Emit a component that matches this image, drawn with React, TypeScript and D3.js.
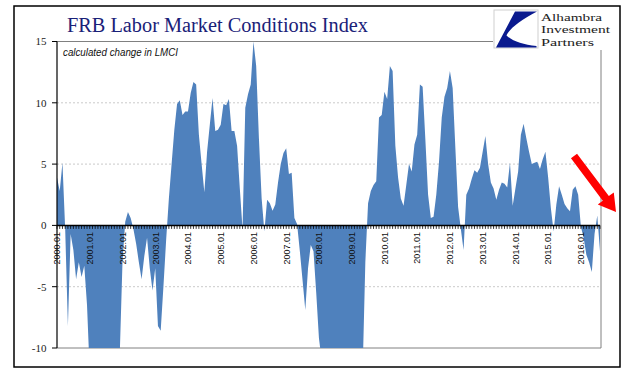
import React from 'react';
import * as d3 from 'd3';

// monthly calculated change in LMCI, Jan 2000 .. Aug 2016 (values below -10 are clipped by the axis)
const lmciChange = [
  3.9, 2.8, 5.1, -0.3, -8.2, -0.7, -2.0, -4.4, -3.0, -4.2, -3.3, -6.5,
  -12, -15, -18, -20, -22, -24, -22, -20, -18, -16, -13, -10.5,
  -3.0, 0.3, 1.1, 0.6, -0.3, -1.5, -3.0, -4.4, -2.5, -1.0, -3.5, -5.3,
  -3.5, -8.2, -8.6, -5.0, -1.2, 2.2, 5.0, 7.8, 9.9, 10.2, 9.0, 9.3,
  9.3, 10.8, 11.7, 11.5, 7.4, 5.0, 2.7, 6.0, 8.2, 10.4, 7.7, 7.8,
  8.2, 9.9, 9.8, 10.3, 7.7, 7.7, 6.5, 3.0, -0.3, 9.6, 10.7, 11.5,
  15.0, 13.0, 7.1, 2.2, -0.5, 2.1, 1.8, 1.2, 1.7, 3.5, 5.0, 5.9,
  6.3, 4.2, 4.3, 0.6, 0.1, -2.1, -4.5, -6.9, -3.5, -1.6, -2.1, -5.5,
  -9.2, -11, -14, -17, -20, -23, -26, -28, -30, -28, -26, -24,
  -21, -18, -15, -13, -12, -3.0, 1.8, 2.8, 3.3, 3.6, 8.8, 9.0,
  10.9, 10.3, 13.0, 12.6, 6.5, 3.9, 2.2, 1.6, 3.3, 5.0, 4.4, 6.6,
  7.4, 11.5, 11.3, 7.0, 2.5, 0.6, 0.7, 2.5, 5.2, 8.8, 10.5, 11.2,
  12.6, 11.2, 6.3, 1.5, -0.3, -2.0, 2.5, 3.0, 3.8, 4.5, 4.3, 4.7,
  6.0, 7.3, 5.0, 3.5, 3.0, 2.1, 2.9, 3.5, 3.4, 3.1, 5.1, 1.6,
  3.0, 4.4, 7.4, 8.3, 7.1, 6.0, 5.0, 5.1, 5.2, 4.6, 5.4, 6.0,
  3.9, 1.4, -0.5, 1.7, 3.2, 2.5, 1.75, 1.4, 1.15, 2.9, 3.2, 2.5,
  -0.1, -1.0, -2.4, -3.0, -3.8, -0.7, 0.8, -2.1,
];

const yTicks = [15, 10, 5, 0, -5, -10];
const dashedGrid = [10, 5, -5];
const xTickLabels = [
  '2000.01', '2001.01', '2002.01', '2003.01', '2004.01', '2005.01', '2006.01', '2007.01', '2008.01',
  '2009.01', '2010.01', '2011.01', '2012.01', '2013.01', '2014.01', '2015.01', '2016.01',
];
const logoLines = ['Alhambra', 'Investment', 'Partners'];
const logoWidths = [61, 69, 53];

const W = 640;
const H = 374;
const plot = { left: 57, right: 600, top: 41.5, bottom: 348 };

export default function App() {
  const x = d3.scaleLinear().domain([0, lmciChange.length - 1]).range([plot.left, plot.right]);
  const y = d3.scaleLinear().domain([-10, 15]).range([plot.bottom, plot.top]);
  const y0 = y(0);

  const area = d3.area<number>()
    .x((_, i) => x(i))
    .y0(y0)
    .y1(d => y(d));

  // red annotation arrow
  const S = [574, 156];
  const T = [616, 212];
  const len = Math.hypot(T[0] - S[0], T[1] - S[1]);
  const d = [(T[0] - S[0]) / len, (T[1] - S[1]) / len];
  const n = [-d[1], d[0]];
  const B = [T[0] - 17 * d[0], T[1] - 17 * d[1]];
  const pt = (p: number[], k: number) => `${p[0] + k * n[0]},${p[1] + k * n[1]}`;
  const arrowPts = [pt(S, 3.8), pt(B, 3.8), pt(B, 10), `${T[0]},${T[1]}`, pt(B, -10), pt(B, -3.8), pt(S, -3.8)].join(' ');

  return (
    <svg width={W} height={H} style={{ position: 'absolute', left: 0, top: 0, background: '#fff' }}>
      <defs>
        <clipPath id="plot-clip">
          <rect x={plot.left} y={plot.top} width={plot.right - plot.left + 1} height={plot.bottom - plot.top} />
        </clipPath>
      </defs>

      <rect x={14} y={6} width={606} height={361} fill="#fff" stroke="#000" strokeWidth={1.5} />

      {/* title */}
      <text x={217.5} y={31.5} textAnchor="middle" fontFamily="'Liberation Serif', serif" fontSize={20} fill="#1a2178" textLength={301} lengthAdjust="spacingAndGlyphs">
        FRB Labor Market Conditions Index
      </text>

      {/* plot frame */}
      <line x1={plot.left} x2={493} y1={plot.top} y2={plot.top} stroke="#808080" strokeWidth={1} />
      <line x1={plot.left} x2={601} y1={plot.bottom} y2={plot.bottom} stroke="#808080" strokeWidth={1} />
      <line x1={601} x2={601} y1={50} y2={plot.bottom} stroke="#808080" strokeWidth={1} />

      {dashedGrid.map(v => (
        <line key={v} x1={plot.left} x2={601} y1={y(v)} y2={y(v)} stroke="#bdbdbd" strokeWidth={0.8} strokeDasharray="2,2" />
      ))}

      <path d={area(lmciChange) || ''} fill="#4f81bd" clipPath="url(#plot-clip)" />

      {/* y axis */}
      <line x1={plot.left} x2={plot.left} y1={plot.top} y2={plot.bottom} stroke="#000" strokeWidth={1.2} />
      {yTicks.map(v => (
        <g key={v}>
          <line x1={plot.left - 5} x2={plot.left} y1={y(v)} y2={y(v)} stroke="#000" strokeWidth={1} />
          <text x={46.5} y={y(v)} dy="0.35em" textAnchor="end" fontFamily="'Liberation Serif', serif" fontSize={11} fill="#222">
            {v}
          </text>
        </g>
      ))}

      {/* x axis at zero */}
      <line x1={plot.left} x2={plot.right} y1={y0} y2={y0} stroke="#000" strokeWidth={1.5} />
      {lmciChange.map((_, i) => (
        <line key={i} x1={x(i)} x2={x(i)} y1={y0} y2={y0 + 3.5} stroke="#000" strokeWidth={0.8} />
      ))}
      {xTickLabels.map((lab, k) => (
        <text
          key={lab}
          transform={`translate(${x(k * 12) + 3.3},${y0 + 6.5}) rotate(-90)`}
          textAnchor="end"
          fontFamily="'Liberation Sans', sans-serif"
          fontSize={9}
          fill="#111"
        >
          {lab}
        </text>
      ))}

      <text x={63} y={56} fontFamily="'Liberation Sans', sans-serif" fontStyle="italic" fontSize={10} fill="#111" textLength={115} lengthAdjust="spacingAndGlyphs">
        calculated change in LMCI
      </text>

      {/* logo */}
      <rect x={494} y={10} width={44} height={38} fill="#fff" stroke="#cfcfcf" strokeWidth={1} />
      <path
        d="M515,11.5 L537,11.5 C521,20 509,29 506.5,35.5 C513,41.5 523,44.5 536.5,46 L536.5,47.5 L496,47.5 Z"
        fill="#0a1a8e"
      />
      {logoLines.map((t, i) => (
        <text
          key={t}
          x={541}
          y={21 + i * 12.3}
          fontFamily="'Liberation Serif', serif"
          fontSize={11}
          fill="#222"
          textLength={logoWidths[i]}
          lengthAdjust="spacingAndGlyphs"
        >
          {t}
        </text>
      ))}

      <polygon points={arrowPts} fill="#ff0000" />
    </svg>
  );
}
